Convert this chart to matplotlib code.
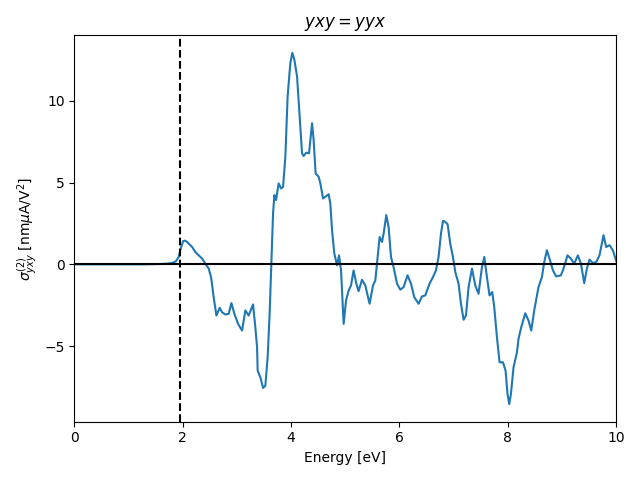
import numpy as np
import matplotlib
matplotlib.use("Agg")
import matplotlib.pyplot as plt

# second-order conductivity yxy (= yyx)
energy = [0.0, 1.0, 1.3, 1.5, 1.6, 1.7, 1.8, 1.87, 1.924, 1.96, 2.006, 2.04, 2.079,
          2.172, 2.232,
          2.293, 2.356, 2.417, 2.478, 2.522, 2.570, 2.620, 2.681, 2.725, 2.786,
          2.847, 2.897, 2.952, 3.020, 3.094, 3.155, 3.216, 3.297, 3.339, 3.371,
          3.382, 3.432, 3.482, 3.524, 3.566, 3.603, 3.635, 3.666, 3.690, 3.721,
          3.769, 3.814, 3.851, 3.893, 3.935, 3.985, 4.022, 4.059, 4.109, 4.157,
          4.201, 4.231, 4.280, 4.330, 4.386, 4.415, 4.452, 4.507, 4.539, 4.589,
          4.631, 4.692, 4.723, 4.755, 4.797, 4.847, 4.884, 4.921, 4.969, 5.013,
          5.061, 5.105, 5.153, 5.203, 5.245, 5.308, 5.369, 5.448, 5.511, 5.554,
          5.596, 5.633, 5.677, 5.707, 5.756, 5.799, 5.843, 5.891, 5.954, 6.015,
          6.076, 6.149, 6.212, 6.273, 6.352, 6.415, 6.476, 6.555, 6.618, 6.673,
          6.721, 6.766, 6.803, 6.845, 6.888, 6.937, 6.987, 7.030, 7.090, 7.135,
          7.183, 7.227, 7.275, 7.338, 7.399, 7.459, 7.522, 7.565, 7.614, 7.662,
          7.712, 7.749, 7.799, 7.847, 7.910, 7.958, 7.994, 8.026, 8.057, 8.105,
          8.168, 8.197, 8.247, 8.321, 8.382, 8.432, 8.487, 8.566, 8.629, 8.672,
          8.721, 8.769, 8.832, 8.893, 8.980, 9.028, 9.101, 9.164, 9.225, 9.293,
          9.349, 9.410, 9.459, 9.507, 9.570, 9.631, 9.692, 9.766, 9.815, 9.876,
          9.939, 9.987, 10.0]
sigma = [0.0, 0.0, 0.0, 0.01, 0.02, 0.04, 0.08, 0.18, 0.45, 0.95, 1.42, 1.45, 1.37,
         1.06, 0.75,
         0.55, 0.35, 0.04, -0.26, -0.78, -2.01, -3.13, -2.66, -2.93, -3.07,
         -3.02, -2.37, -3.02, -3.64, -4.05, -2.82, -3.13, -2.45, -3.85, -5.07,
         -6.50, -6.91, -7.56, -7.42, -5.69, -3.02, 0.04, 3.11, 4.23, 3.93,
         4.95, 4.64, 4.74, 6.58, 10.26, 12.31, 12.93, 12.52, 11.49, 9.04,
         6.79, 6.63, 6.83, 6.79, 8.63, 7.61, 5.56, 5.36, 4.95, 4.03,
         4.13, 4.29, 3.72, 2.09, 0.66, -0.06, 0.55, -0.37, -3.64, -2.21,
         -1.60, -1.29, -0.37, -1.18, -1.64, -0.94, -1.29, -2.41, -1.29, -0.98,
         0.45, 1.67, 1.37, 1.88, 3.01, 2.29, 0.45, -0.17, -1.18, -1.55,
         -1.39, -0.67, -1.18, -2.01, -2.41, -1.96, -1.90, -1.18, -0.78, -0.37,
         0.45, 1.88, 2.66, 2.60, 2.45, 1.27, 0.45, -0.47, -1.18, -2.41,
         -3.39, -3.13, -1.39, -0.26, -1.29, -1.80, -0.17, 0.45, -0.78, -1.90,
         -1.70, -2.62, -4.46, -5.99, -5.99, -6.50, -7.93, -8.55, -7.93, -6.30,
         -5.38, -4.56, -3.85, -2.99, -3.44, -4.05, -2.82, -1.39, -0.78, 0.14,
         0.86, 0.35, -0.37, -0.74, -0.67, -0.26, 0.55, 0.35, 0.04, 0.55,
         0.04, -1.15, -0.26, 0.29, 0.08, 0.14, 0.55, 1.78, 1.06, 1.17,
         0.86, 0.35, 0.2]

band_gap = 1.956

fig, ax = plt.subplots(figsize=(6.4, 4.8))
ax.plot(energy, sigma)
ax.axhline(0, color='k')
ax.axvline(band_gap, color='k', linestyle='--')
ax.set_xlim(0, 10)
ax.set_xlabel('Energy [eV]')
ax.set_ylabel(r'$\sigma^{(2)}_{yxy}$ [nm$\mu$A/V$^2$]')
ax.set_title(r'$yxy = yyx$')
plt.tight_layout()
plt.savefig('out.png', dpi=100)
